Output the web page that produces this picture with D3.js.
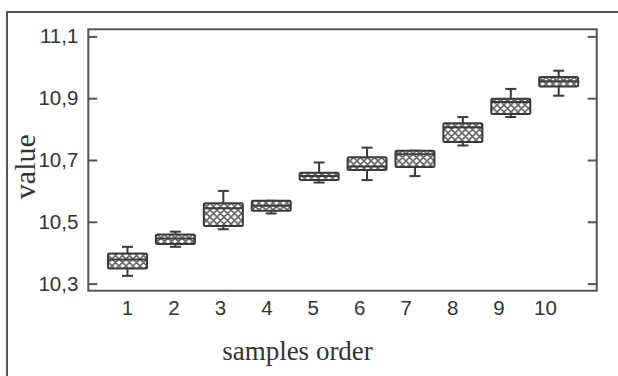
<!DOCTYPE html>
<html>
<head>
<meta charset="utf-8">
<script src="https://cdn.jsdelivr.net/npm/d3@7"></script>
<style>
  body { margin: 0; background: #fff; }
  svg { display: block; }
</style>
</head>
<body>
<script>
// data
const categories = ["1", "2", "3", "4", "5", "6", "7", "8", "9", "10"];
const whiskerLow  = [10.325, 10.419, 10.476, 10.527, 10.627, 10.635, 10.648, 10.747, 10.839, 10.908];
const q1          = [10.349, 10.428, 10.486, 10.536, 10.635, 10.668, 10.677, 10.758, 10.849, 10.938];
const median      = [10.378, 10.446, 10.544, 10.552, 10.648, 10.679, 10.719, 10.806, 10.888, 10.955];
const q3          = [10.397, 10.459, 10.560, 10.568, 10.659, 10.709, 10.730, 10.819, 10.898, 10.969];
const whiskerHigh = [10.419, 10.468, 10.600, 10.568, 10.692, 10.740, 10.730, 10.839, 10.930, 10.989];
const yTicks = [10.3, 10.5, 10.7, 10.9, 11.1];

const W = 618, H = 376;
const frame = { left: 88.3, right: 596.7, top: 29.3, bottom: 290.7 };
const boxWidth = 39, capWidth = 11;
const ink = "#3a3a3a";

const svg = d3.select("body").append("svg").attr("width", W).attr("height", H);

// hatch pattern for box fill
const pat = svg.append("defs").append("pattern")
    .attr("id", "hatch")
    .attr("patternUnits", "userSpaceOnUse")
    .attr("width", 7).attr("height", 7);
pat.append("rect").attr("width", 7).attr("height", 7).attr("fill", "#fff");
pat.append("path")
    .attr("d", "M-1,1 L1,-1 M0,7 L7,0 M6,8 L8,6 M-1,6 L1,8 M0,0 L7,7 M6,-1 L8,1")
    .attr("stroke", "#6a6a6a").attr("stroke-width", 1.6);

// outer border of the figure
svg.append("path")
    .attr("d", `M7,${H} L7,12 L${W},12`)
    .attr("fill", "none").attr("stroke", "#555").attr("stroke-width", 2);

// scales
const y = d3.scaleLinear().domain([10.277, 11.123]).range([frame.bottom, frame.top]);
const x = d3.scalePoint().domain(categories).range([127.5, 558.7]);
const xLabel = d3.scalePoint().domain(categories).range([127, 545]);

const fmt = d => d3.format(".1f")(d).replace(".", ",");

// axes
const left = svg.append("g")
    .attr("transform", `translate(${frame.left},0)`)
    .call(d3.axisLeft(y).tickValues(yTicks).tickFormat(fmt)
        .tickSizeInner(-9).tickSizeOuter(0).tickPadding(10));

const right = svg.append("g")
    .attr("transform", `translate(${frame.right},0)`)
    .call(d3.axisRight(y).tickValues(yTicks).tickFormat("")
        .tickSizeInner(-9).tickSizeOuter(0));

const bottom = svg.append("g")
    .attr("transform", `translate(0,${frame.bottom})`)
    .call(d3.axisBottom(xLabel).tickSize(0).tickPadding(10));

[left, right, bottom].forEach(g => {
    g.select(".domain").remove();
    g.selectAll("line").attr("stroke", "#555").attr("stroke-width", 2);
    g.selectAll("text")
        .attr("fill", "#333")
        .style("font-family", "'Liberation Sans', Arial, sans-serif")
        .style("font-size", "20.5px");
});

// plot frame
svg.append("rect")
    .attr("x", frame.left).attr("y", frame.top)
    .attr("width", frame.right - frame.left)
    .attr("height", frame.bottom - frame.top)
    .attr("fill", "none").attr("stroke", "#555").attr("stroke-width", 2);

// boxes
const rows = categories.map((c, i) => ({
    c, lo: whiskerLow[i], q1: q1[i], med: median[i], q3: q3[i], hi: whiskerHigh[i]
}));

const box = svg.append("g").selectAll("g").data(rows).join("g");

box.append("line")
    .attr("x1", d => x(d.c)).attr("x2", d => x(d.c))
    .attr("y1", d => y(d.hi)).attr("y2", d => y(d.lo))
    .attr("stroke", ink).attr("stroke-width", 2);

box.selectAll(".cap")
    .data(d => [[d.c, d.hi], [d.c, d.lo]])
    .join("line").attr("class", "cap")
    .attr("x1", d => x(d[0]) - capWidth / 2).attr("x2", d => x(d[0]) + capWidth / 2)
    .attr("y1", d => y(d[1])).attr("y2", d => y(d[1]))
    .attr("stroke", ink).attr("stroke-width", 2);

box.append("rect")
    .attr("x", d => x(d.c) - boxWidth / 2)
    .attr("y", d => y(d.q3))
    .attr("width", boxWidth)
    .attr("height", d => y(d.q1) - y(d.q3))
    .attr("rx", 1.5)
    .attr("fill", "url(#hatch)")
    .attr("stroke", ink).attr("stroke-width", 2);

box.append("line")
    .attr("x1", d => x(d.c) - boxWidth / 2).attr("x2", d => x(d.c) + boxWidth / 2)
    .attr("y1", d => y(d.med)).attr("y2", d => y(d.med))
    .attr("stroke", ink).attr("stroke-width", 2);

// axis titles
svg.append("text")
    .attr("x", 297.5).attr("y", 360)
    .attr("text-anchor", "middle")
    .attr("fill", "#333")
    .style("font-family", "'Liberation Serif', 'Times New Roman', serif")
    .style("font-size", "27px")
    .text("samples order");

svg.append("text")
    .attr("transform", "translate(35,166.7) rotate(-90)")
    .attr("text-anchor", "middle")
    .attr("fill", "#333")
    .style("font-family", "'Liberation Serif', 'Times New Roman', serif")
    .style("font-size", "30px")
    .text("value");
</script>
</body>
</html>
